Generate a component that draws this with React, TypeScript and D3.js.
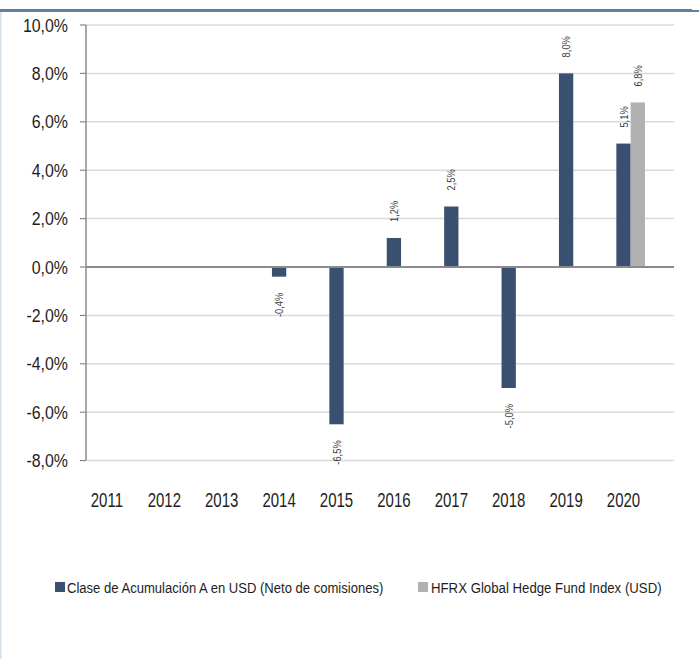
import React from "react";
import * as d3 from "d3";

const years = ["2011", "2012", "2013", "2014", "2015", "2016", "2017", "2018", "2019", "2020"];
const fundValues: (number | null)[] = [null, null, null, -0.4, -6.5, 1.2, 2.5, -5.0, 8.0, 5.1];
const indexValues: (number | null)[] = [null, null, null, null, null, null, null, null, null, 6.8];
const yTicks = [-8, -6, -4, -2, 0, 2, 4, 6, 8, 10];
const seriesNames = ["Clase de Acumulación A en USD (Neto de comisiones)", "HFRX Global Hedge Fund Index (USD)"];

const W = 699;
const H = 659;
const FONT = "'Liberation Sans', Arial, sans-serif";
const NAVY = "#3a5070";
const GRAY = "#b1b1b1";

const fmt = (v: number) => v.toFixed(1).replace(".", ",") + "%";

type CTProps = {
  x: number;
  y: number;
  sx: number;
  size: number;
  anchor?: "start" | "middle" | "end";
  rotate?: number;
  fill?: string;
  dy?: string;
  children: React.ReactNode;
};

function CText({ x, y, sx, size, anchor = "start", rotate = 0, fill = "#1e1e1e", dy, children }: CTProps) {
  return (
    <text
      transform={`translate(${x},${y}) rotate(${rotate}) scale(${sx},1)`}
      textAnchor={anchor}
      fontFamily={FONT}
      fontSize={size}
      fill={fill}
      dy={dy}
    >
      {children}
    </text>
  );
}

export default function App() {
  const y = d3.scaleLinear().domain([-8, 10]).range([460.6, 25]);
  const x = d3.scaleBand<string>().domain(years).range([78.2, 652.2]);
  const axisX = 86;
  const plotRight = 674;
  const bw = 14.3;
  const labelGap = 16;

  const bars: JSX.Element[] = [];
  const labels: JSX.Element[] = [];
  years.forEach((yr, i) => {
    const c = x(yr)! + x.bandwidth() / 2;
    const series = [
      { v: fundValues[i], x0: c - bw / 2, color: NAVY },
      { v: indexValues[i], x0: c + bw / 2, color: GRAY },
    ];
    series.forEach((s, j) => {
      if (s.v === null || s.v === undefined) return;
      const v = s.v as number;
      const top = y(Math.max(0, v));
      const bot = y(Math.min(0, v));
      bars.push(
        <rect key={`b${i}-${j}`} x={s.x0} y={top} width={bw} height={bot - top} fill={s.color} />
      );
      const cx = s.x0 + bw / 2;
      const pos = v >= 0;
      labels.push(
        <CText key={`l${i}-${j}`} x={cx + 4} y={pos ? top - labelGap : bot + labelGap} sx={0.85} size={11}
          rotate={-90} anchor={pos ? "start" : "end"} fill="#404040">{fmt(v)}</CText>
      );
    });
  });

  return (
    <svg width={W} height={H} style={{ position: "absolute", left: 0, top: 0, background: "#fff" }}>
      {/* frame */}
      <rect x={0} y={9} width={692} height={3} fill="#5f81a1" />
      <rect x={692} y={10} width={7} height={2} fill="#5f81a1" />
      <rect x={0} y={12} width={1.5} height={H - 12} fill="#d6e0ea" />

      {/* gridlines */}
      {yTicks.filter((t) => t !== 0).map((t) => (
        <line key={`g${t}`} x1={axisX} x2={plotRight} y1={y(t)} y2={y(t)} stroke="#d9d9d9" strokeWidth={1.5} />
      ))}
      {/* y ticks */}
      {yTicks.map((t) => (
        <g key={`t${t}`}>
          <line x1={axisX - 6} x2={axisX} y1={y(t)} y2={y(t)} stroke="#888" strokeWidth={1.2} />
          <CText x={68} y={y(t)} dy="0.36em" anchor="end" sx={0.86} size={18.5}>{fmt(t)}</CText>
        </g>
      ))}

      {bars}

      {/* zero line and axis */}
      <line x1={axisX} x2={plotRight} y1={y(0)} y2={y(0)} stroke="#8a8a8a" strokeWidth={1.8} />
      <line x1={axisX} x2={axisX} y1={y(10)} y2={y(-8)} stroke="#8a8a8a" strokeWidth={1.5} />

      {labels}

      {/* x labels */}
      {years.map((yr) => (
        <CText key={`x${yr}`} x={x(yr)! + x.bandwidth() / 2} y={506.5} anchor="middle" sx={0.75} size={20}>{yr}</CText>
      ))}

      {/* legend */}
      <rect x={55} y={582} width={10} height={10} fill={NAVY} />
      <CText x={67} y={592.5} sx={0.86} size={15.2}>{seriesNames[0]}</CText>
      <rect x={418} y={582} width={10} height={10} fill={GRAY} />
      <CText x={431} y={592.5} sx={0.87} size={15.2}>{seriesNames[1]}</CText>
    </svg>
  );
}
